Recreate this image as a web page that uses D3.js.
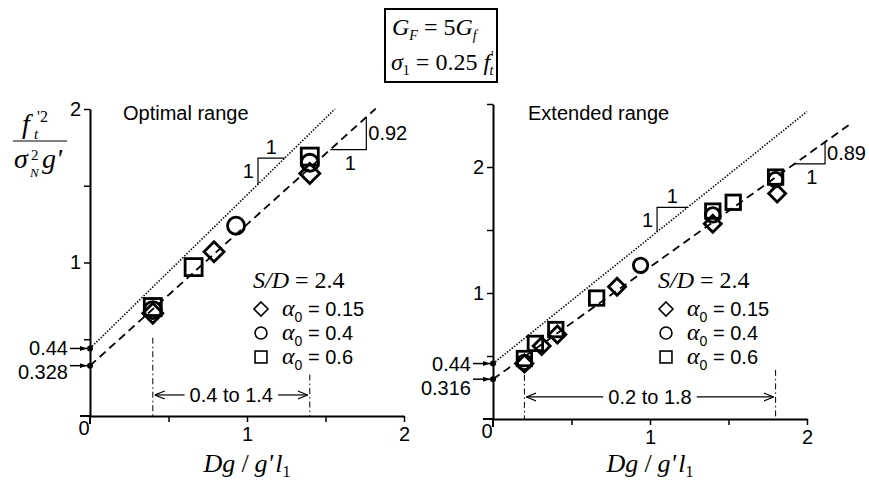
<!DOCTYPE html>
<html>
<head>
<meta charset="utf-8">
<script src="https://cdn.jsdelivr.net/npm/d3@7"></script>
<style>
  body { margin: 0; background: #fff; }
  svg { display: block; }
  text { white-space: pre; }
</style>
</head>
<body>
<div class="viz"></div>
<script>
// values
const xTicks = [0.5, 1, 1.5, 2];
const yTicksOptimal = [0.5, 1, 1.5, 2];
const yTicksExtended = [0.5, 1, 1.5, 2, 2.5];

const panelTitles = ['Optimal range', 'Extended range'];
const seriesLabels = ['0.15', '0.4', '0.6'];
const seriesShapes = ['diamond', 'circle', 'square'];

// [Dg/g'l1, f't^2/(sigmaN^2 g')]
const optimalA015 = [[0.4, 0.67], [0.79, 1.07], [1.4, 1.58]];
const optimalA04 = [[0.4, 0.69], [0.93, 1.24], [1.4, 1.65]];
const optimalA06 = [[0.4, 0.71], [0.66, 0.97], [1.4, 1.69]];

const extendedA015 = [[0.2, 0.44], [0.31, 0.58], [0.41, 0.67], [0.79, 1.05], [1.4, 1.55], [1.81, 1.79]];
const extendedA04 = [[0.2, 0.45], [0.94, 1.22], [1.4, 1.62], [1.8, 1.9]];
const extendedA06 = [[0.2, 0.48], [0.27, 0.6], [0.4, 0.71], [0.66, 0.96], [1.4, 1.65], [1.53, 1.72], [1.8, 1.92]];

// fitted lines and the reference line of slope 1
const fitIntercepts = [0.328, 0.316];
const fitSlopes = [0.92, 0.89];
const fitLabels = ['0.328', '0.316'];
const slopeLabels = ['0.92', '0.89'];
const refIntercept = 0.44;
const refSlope = 1;

const rangeBounds = [[0.4, 1.4], [0.2, 1.8]];
const rangeLabels = ['0.4 to 1.4', '0.2 to 1.8'];

const sans = '"Liberation Sans", Arial, sans-serif';
const serif = '"Liberation Serif", "Times New Roman", serif';

// layout of the two panels
const panels = [
  {
    left: 90, right: 404, bottom: 416, top: 109, yMax: 2, yTicks: yTicksOptimal,
    points: [optimalA015, optimalA04, optimalA06], marker: 10,
    refEnd: 1.56, fitEnd: 1.82, refTri: [1.07, 1.24], fitTri: [1.53, 1.76],
    rangeTops: [0.51, 0.27], rangeY: 0.137, legendX: 253, fitLabelDy: 6, titleX: 123,
  },
  {
    left: 493, right: 807, bottom: 419, top: 104, yMax: 2.5, yTicks: yTicksExtended,
    points: [extendedA015, extendedA04, extendedA06], marker: 8.5,
    refEnd: 2.0, fitEnd: 2.27, refTri: [1.045, 1.24], fitTri: [1.92, 2.115],
    rangeTops: [0.35, 0.39], rangeY: 0.175, legendX: 658, fitLabelDy: 9, titleX: 528,
  },
];

const svg = d3.select('.viz')
  .append('svg')
  .attr('width', 869)
  .attr('height', 485);

// arrow heads
const defs = svg.append('defs');
defs.append('marker')
  .attr('id', 'head-solid')
  .attr('viewBox', '0 0 10 10')
  .attr('refX', 10).attr('refY', 5)
  .attr('markerWidth', 7).attr('markerHeight', 7)
  .attr('markerUnits', 'userSpaceOnUse')
  .attr('orient', 'auto')
  .append('path')
  .attr('d', 'M0,1.5 L10,5 L0,8.5 Z')
  .attr('fill', '#000');

defs.append('marker')
  .attr('id', 'head-open')
  .attr('viewBox', '0 0 10 10')
  .attr('refX', 10).attr('refY', 5)
  .attr('markerWidth', 10).attr('markerHeight', 10)
  .attr('markerUnits', 'userSpaceOnUse')
  .attr('orient', 'auto-start-reverse')
  .append('path')
  .attr('d', 'M0,1 L10,5 L0,9')
  .attr('fill', 'none')
  .attr('stroke', '#000')
  .attr('stroke-width', 1.2);

// draw one hollow marker
function marker(g, shape, cx, cy, s, sw) {
  if (shape === 'diamond') {
    g.append('path')
      .attr('d', `M${cx},${cy - s} L${cx + s},${cy} L${cx},${cy + s} L${cx - s},${cy} Z`)
      .attr('fill', 'none').attr('stroke', '#000').attr('stroke-width', sw);
  } else if (shape === 'circle') {
    g.append('circle')
      .attr('cx', cx).attr('cy', cy).attr('r', s * 0.85)
      .attr('fill', 'none').attr('stroke', '#000').attr('stroke-width', sw);
  } else {
    const h = s * 0.85;
    g.append('rect')
      .attr('x', cx - h).attr('y', cy - h).attr('width', 2 * h).attr('height', 2 * h)
      .attr('fill', 'none').attr('stroke', '#000').attr('stroke-width', sw);
  }
}

panels.forEach((p, i) => {
  const g = svg.append('g').attr('class', `panel panel-${i}`);

  const x = d3.scaleLinear().domain([0, 2]).range([p.left, p.right]);
  const y = d3.scaleLinear().domain([0, p.yMax]).range([p.bottom, p.top]);
  const fit = v => fitIntercepts[i] + fitSlopes[i] * v;
  const ref = v => refIntercept + refSlope * v;

  // axes
  g.append('g')
    .attr('class', 'axis x-axis')
    .attr('transform', `translate(0 ${p.bottom})`)
    .call(d3.axisBottom(x)
      .tickValues(xTicks)
      .tickSize(6)
      .tickSizeOuter(0)
      .tickPadding(5)
      .tickFormat(d => (Number.isInteger(d) ? d : '')));

  g.append('g')
    .attr('class', 'axis y-axis')
    .attr('transform', `translate(${p.left} 0)`)
    .call(d3.axisLeft(y)
      .tickValues(p.yTicks)
      .tickSize(6)
      .tickSizeOuter(0)
      .tickPadding(3)
      .tickFormat(d => (Number.isInteger(d) ? d : '')));

  g.selectAll('.axis .domain').attr('stroke-width', 2);
  g.selectAll('.axis .tick line').attr('stroke-width', 1.5);
  g.selectAll('.axis text')
    .attr('font-family', sans)
    .attr('font-size', 20)
    .attr('fill', '#000');

  // small overshoot of both axes past the origin
  g.append('line')
    .attr('x1', p.left - 10).attr('x2', p.left)
    .attr('y1', p.bottom).attr('y2', p.bottom)
    .attr('stroke', '#000').attr('stroke-width', 2);
  g.append('line')
    .attr('x1', p.left).attr('x2', p.left)
    .attr('y1', p.bottom).attr('y2', p.bottom + 8)
    .attr('stroke', '#000').attr('stroke-width', 2);

  g.append('text')
    .attr('x', p.left - 6).attr('y', p.bottom + 19)
    .attr('text-anchor', 'middle')
    .attr('font-family', sans).attr('font-size', 20)
    .text('0');

  // panel title
  g.append('text')
    .attr('x', p.titleX).attr('y', 120)
    .attr('font-family', sans).attr('font-size', 20)
    .text(panelTitles[i]);

  // reference line (slope 1) and fitted line
  const line = d3.line().x(d => x(d[0])).y(d => y(d[1]));
  g.append('path')
    .attr('d', line([[0, ref(0)], [p.refEnd, ref(p.refEnd)]]))
    .attr('fill', 'none').attr('stroke', '#000')
    .attr('stroke-width', 1.6).attr('stroke-dasharray', '1.4,1.6');
  g.append('path')
    .attr('d', line([[0, fit(0)], [p.fitEnd, fit(p.fitEnd)]]))
    .attr('fill', 'none').attr('stroke', '#000')
    .attr('stroke-width', 1.8).attr('stroke-dasharray', '8,5');

  // slope triangles
  const [ra, rb] = p.refTri;
  g.append('path')
    .attr('d', line([[ra, ref(ra)], [ra, ref(rb)], [rb, ref(rb)]]))
    .attr('fill', 'none').attr('stroke', '#000').attr('stroke-width', 1.2);
  g.append('text')
    .attr('x', x(ra) - 4).attr('y', (y(ref(ra)) + y(ref(rb))) / 2 + 7)
    .attr('text-anchor', 'end')
    .attr('font-family', sans).attr('font-size', 20)
    .text('1');
  g.append('text')
    .attr('x', (x(ra) + x(rb)) / 2).attr('y', y(ref(rb)) - 4)
    .attr('text-anchor', 'middle')
    .attr('font-family', sans).attr('font-size', 20)
    .text('1');

  const [fa, fb] = p.fitTri;
  g.append('path')
    .attr('d', line([[fa, fit(fa)], [fb, fit(fa)], [fb, fit(fb)]]))
    .attr('fill', 'none').attr('stroke', '#000').attr('stroke-width', 1.2);
  g.append('text')
    .attr('x', x(fb) + 2).attr('y', (y(fit(fa)) + y(fit(fb))) / 2 + 7)
    .attr('font-family', sans).attr('font-size', 20)
    .text(slopeLabels[i]);
  g.append('text')
    .attr('x', (x(fa) + x(fb)) / 2 + 2).attr('y', y(fit(fa)) + 20)
    .attr('text-anchor', 'middle')
    .attr('font-family', sans).attr('font-size', 20)
    .text('1');

  // intercepts with dots and arrows
  const intercepts = [
    { v: refIntercept, label: '0.44', dy: 0 },
    { v: fitIntercepts[i], label: fitLabels[i], dy: p.fitLabelDy },
  ];
  intercepts.forEach(d => {
    g.append('circle')
      .attr('cx', x(0)).attr('cy', y(d.v)).attr('r', 3)
      .attr('fill', '#000');
    g.append('line')
      .attr('x1', p.left - 20).attr('x2', p.left - 3)
      .attr('y1', y(d.v)).attr('y2', y(d.v))
      .attr('stroke', '#000').attr('stroke-width', 1.5)
      .attr('marker-end', 'url(#head-solid)');
    g.append('text')
      .attr('x', p.left - 22).attr('y', y(d.v) + 7 + d.dy)
      .attr('text-anchor', 'end')
      .attr('font-family', sans).attr('font-size', 20)
      .text(d.label);
  });

  // range limits
  const [r0, r1] = rangeBounds[i];
  [r0, r1].forEach((b, k) => {
    g.append('line')
      .attr('x1', x(b)).attr('x2', x(b))
      .attr('y1', y(p.rangeTops[k])).attr('y2', p.bottom)
      .attr('stroke', '#000').attr('stroke-width', 1)
      .attr('stroke-dasharray', '6,3,1.5,3');
  });
  const ry = y(p.rangeY);
  const mid = (x(r0) + x(r1)) / 2;
  const rangeText = g.append('text')
    .attr('x', mid).attr('y', ry + 7)
    .attr('text-anchor', 'middle')
    .attr('font-family', sans).attr('font-size', 20)
    .text(rangeLabels[i]);
  const tw = rangeText.node().getComputedTextLength();
  g.append('line')
    .attr('x1', mid - tw / 2 - 5).attr('x2', x(r0) + 2)
    .attr('y1', ry).attr('y2', ry)
    .attr('stroke', '#000').attr('stroke-width', 1.2)
    .attr('marker-end', 'url(#head-open)');
  g.append('line')
    .attr('x1', mid + tw / 2 + 5).attr('x2', x(r1) - 2)
    .attr('y1', ry).attr('y2', ry)
    .attr('stroke', '#000').attr('stroke-width', 1.2)
    .attr('marker-end', 'url(#head-open)');

  // data points
  const pts = g.append('g').attr('class', 'points');
  p.points.forEach((series, s) => {
    series.forEach(([vx, vy]) => marker(pts, seriesShapes[s], x(vx), y(vy), p.marker, 2.8));
  });

  // legend
  const lg = g.append('g').attr('class', 'legend');
  const sd = lg.append('text')
    .attr('x', p.legendX).attr('y', 288)
    .attr('font-family', serif).attr('font-size', 24);
  sd.append('tspan').attr('font-style', 'italic').text('S/D');
  sd.append('tspan').text(' = 2.4');

  seriesLabels.forEach((lab, s) => {
    const cy = 309 + s * 24;
    marker(lg, seriesShapes[s], p.legendX + 8, cy, 7, 1.6);
    const t = lg.append('text')
      .attr('x', p.legendX + 29).attr('y', cy + 7)
      .attr('font-family', sans).attr('font-size', 20);
    t.append('tspan').attr('font-family', serif).attr('font-style', 'italic').attr('font-size', 24).text('α');
    t.append('tspan').attr('font-size', 14).attr('dy', 6).text('0');
    t.append('tspan').attr('dy', -6).text(` = ${lab}`);
  });

  // x axis title
  const cx = (p.left + p.right) / 2;
  const xt = g.append('text')
    .attr('x', cx).attr('y', 472)
    .attr('text-anchor', 'middle')
    .attr('font-family', serif).attr('font-size', 26);
  xt.append('tspan').attr('font-style', 'italic').text('Dg');
  xt.append('tspan').attr('dx', 6).text('/');
  xt.append('tspan').attr('dx', 6).attr('font-style', 'italic').text("g'");
  xt.append('tspan').attr('dx', 2).attr('font-style', 'italic').text('l');
  xt.append('tspan').attr('font-size', 16).attr('dy', 5).text('1');
});

// y axis title (left panel only)
const yt = svg.append('g').attr('class', 'y-title')
  .attr('font-family', serif).attr('font-style', 'italic');
yt.append('text').attr('x', 22).attr('y', 133).attr('font-size', 28).text('f');
yt.append('text').attr('x', 34).attr('y', 139).attr('font-size', 15).text('t');
yt.append('text').attr('x', 37).attr('y', 122).attr('font-size', 16).attr('font-style', 'normal').text("'2");
yt.append('line')
  .attr('x1', 13).attr('x2', 67).attr('y1', 141).attr('y2', 141)
  .attr('stroke', '#000').attr('stroke-width', 1);
yt.append('text').attr('x', 14).attr('y', 168).attr('font-size', 28).text('σ');
yt.append('text').attr('x', 31).attr('y', 160).attr('font-size', 15).attr('font-style', 'normal').text('2');
yt.append('text').attr('x', 30).attr('y', 177).attr('font-size', 13).text('N');
yt.append('text').attr('x', 42).attr('y', 168).attr('font-size', 28).text("g'");

// parameter box
const box = svg.append('g').attr('class', 'params');
box.append('rect')
  .attr('x', 385).attr('y', 9).attr('width', 112).attr('height', 73)
  .attr('fill', 'none').attr('stroke', '#000').attr('stroke-width', 2);

const l1 = box.append('text')
  .attr('x', 392).attr('y', 35)
  .attr('font-family', serif).attr('font-size', 24);
l1.append('tspan').attr('font-style', 'italic').text('G');
l1.append('tspan').attr('font-style', 'italic').attr('font-size', 14).attr('dy', 5).text('F');
l1.append('tspan').attr('dy', -5).text(' = 5');
l1.append('tspan').attr('font-style', 'italic').text('G');
l1.append('tspan').attr('font-style', 'italic').attr('font-size', 14).attr('dy', 5).text('f');

const l2 = box.append('text')
  .attr('x', 391).attr('y', 70)
  .attr('font-family', serif).attr('font-size', 24);
l2.append('tspan').attr('font-style', 'italic').text('σ');
l2.append('tspan').attr('font-size', 14).attr('dy', 5).text('1');
l2.append('tspan').attr('dy', -5).text(' = 0.25');
l2.append('tspan').attr('font-style', 'italic').text(' f');
l2.append('tspan').attr('font-size', 14).attr('dy', -9).attr('dx', 1).text("'");
l2.append('tspan').attr('font-style', 'italic').attr('font-size', 14).attr('dy', 14).attr('dx', -4).text('t');
</script>
</body>
</html>
